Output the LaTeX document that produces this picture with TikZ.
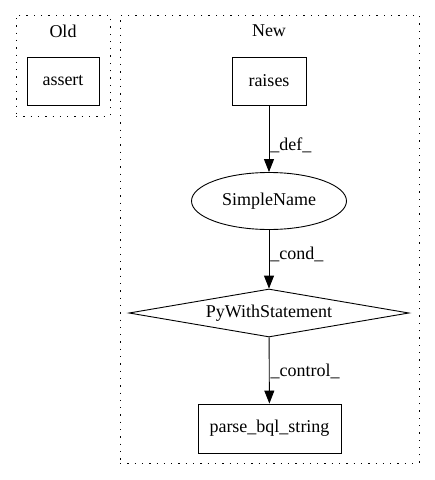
\documentclass[tikz,border=0pt]{standalone}
\usepackage{fontspec}
\setmainfont{Liberation Serif}
\usetikzlibrary{shapes.geometric, arrows.meta}

\begin{document}
\begin{tikzpicture}[x=1pt, y=-1pt,
		every node/.style={font=\fontsize{18}{21}\selectfont},
		cluster/.style={draw, dash pattern=on 1.3pt off 6pt, line width=1pt, inner sep=0pt},
		box/.style={draw, rectangle, line width=0.9pt, inner sep=0pt, minimum height=48pt},
		oval/.style={draw, ellipse, line width=0.9pt, inner sep=0pt},
		cond/.style={draw, diamond, aspect=5.8, line width=0.9pt, inner sep=0pt},
		flow/.style={-{Triangle[length=13pt, width=10pt]}, line width=0.9pt},
		lbl/.style={right, inner sep=1pt}]
	\useasboundingbox (0,0) rectangle (435,480);

	\node (old) at (63,65.5)  [cluster, minimum width=94pt, minimum height=101pt] {};
	\node (new) at (269.5,239) [cluster, minimum width=299pt, minimum height=448pt] {};
	\node (oldlabel) at (63,31)  {Old};
	\node (newlabel) at (269,31) {New};

	\node (assert) at (63,81)   [box, minimum width=72pt] {assert};
	\node (raises) at (269,81)  [box, minimum width=74pt] {raises};
	\node (name)   at (269,201) [oval, minimum width=155pt, minimum height=57pt] {SimpleName};
	\node (with)   at (269,313) [cond, minimum width=280pt, minimum height=48pt] {PyWithStatement};
	\node (parse)  at (269.5,428.5) [box, minimum width=143pt, minimum height=49pt] {parse\_bql\_string};

	% edges of the new version
	\draw[flow] (raises) -- node[lbl, pos=0.6] {\_def\_} (name);
	\draw[flow] (name) -- node[lbl, pos=0.42] {\_cond\_} (with);
	\draw[flow] (with) -- node[lbl, pos=0.52] {\_control\_} (parse);
\end{tikzpicture}
\end{document}
